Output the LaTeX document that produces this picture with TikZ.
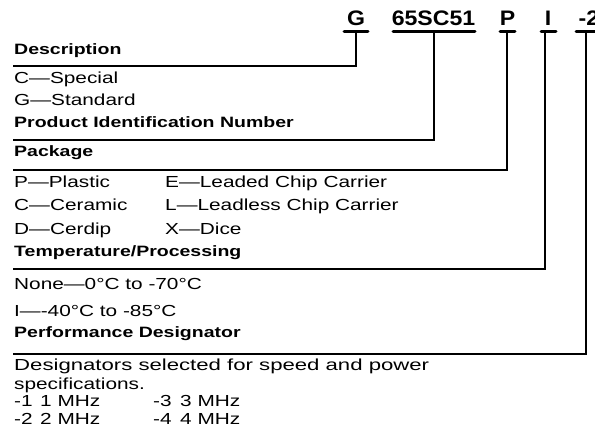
\documentclass[tikz,border=0pt]{standalone}
\usepackage{fontspec}
\setmainfont{Liberation Sans}[FakeStretch=1.3]
\newfontfamily\topfont{Liberation Sans}[FakeStretch=1.1]
\begin{document}
\begin{tikzpicture}[x=1pt,y=-1pt,
  txt/.style={anchor=base west, inner sep=0pt, font=\fontsize{16}{18}\selectfont},
  hd/.style={anchor=base west, inner sep=0pt, font=\fontsize{15}{18}\selectfont\bfseries},
  toplbl/.style={anchor=base, inner sep=0pt, font=\fontsize{21}{24}\selectfont\topfont\bfseries},
  ul/.style={line width=3pt, line cap=round},
  conn/.style={line width=1.5pt}]
\useasboundingbox (0,0) rectangle (595,444);
\clip (0,0) rectangle (595,444);
% top code
\node[toplbl] (tG) at (356,26) {G};
\node[toplbl] (tN) at (433.5,26) {65SC51};
\node[toplbl] (tP) at (507.5,26) {P};
\node[toplbl] (tI) at (548,26) {I};
\node[toplbl] (tS) at (589,26) {-2};
\coordinate (uGa) at (344,32); \coordinate (uGb) at (368,32);
\coordinate (uNa) at (393,32); \coordinate (uNb) at (475,32);
\coordinate (uPa) at (500,32); \coordinate (uPb) at (515,32);
\coordinate (uIa) at (541,32); \coordinate (uIb) at (556,32);
\coordinate (uSa) at (576,32); \coordinate (uSb) at (600,32);
\draw[ul] (uGa) -- (uGb);
\draw[ul] (uNa) -- (uNb);
\draw[ul] (uPa) -- (uPb);
\draw[ul] (uIa) -- (uIb);
\draw[ul] (uSa) -- (uSb);
\coordinate (cG) at (356,32); \coordinate (eG) at (13,66);
\coordinate (cN) at (434,32); \coordinate (eN) at (13,140);
\coordinate (cP) at (507,32); \coordinate (eP) at (13,170);
\coordinate (cI) at (545,32); \coordinate (eI) at (13,269);
\coordinate (cS) at (586,32); \coordinate (eS) at (13,354);
\draw[conn] (cG) |- (eG);
\draw[conn] (cN) |- (eN);
\draw[conn] (cP) |- (eP);
\draw[conn] (cI) |- (eI);
\draw[conn] (cS) |- (eS);
% left texts
\node[hd] (desc) at (14,55) {Description};
\node[txt] (cs) at (14,84) {C—Special};
\node[txt] (gs) at (14,106) {G—Standard};
\node[hd] (pin) at (14,128) {Product Identification Number};
\node[hd] (pkg) at (14,157) {Package};
\node[txt] (pp) at (14,187) {P—Plastic};
\node[txt] (pe) at (165,187) {E—Leaded Chip Carrier};
\node[txt] (pc) at (14,210) {C—Ceramic};
\node[txt] (pl) at (165,210) {L—Leadless Chip Carrier};
\node[txt] (pd) at (14,234) {D—Cerdip};
\node[txt] (px) at (165,234) {X—Dice};
\node[hd] (tmp) at (14,256) {Temperature/Processing};
\node[txt] (tn) at (14,289) {None—0°C to -70°C};
\node[txt] (ti) at (14,316) {I—-40°C to -85°C};
\node[hd] (perf) at (14,337) {Performance Designator};
\node[txt] (dsg) at (14,370) {\scalebox{1.065}[1]{Designators selected for speed and power}};
\node[txt] (spc) at (14,389) {specifications.};
\node[txt] (m1a) at (14,406) {-1};
\node[txt] (m1b) at (40,406) {1 MHz};
\node[txt] (m3a) at (153,406) {-3};
\node[txt] (m3b) at (180,406) {3 MHz};
\node[txt] (m2a) at (14,424) {-2};
\node[txt] (m2b) at (40,424) {2 MHz};
\node[txt] (m4a) at (153,424) {-4};
\node[txt] (m4b) at (180,424) {4 MHz};
\end{tikzpicture}
\end{document}
